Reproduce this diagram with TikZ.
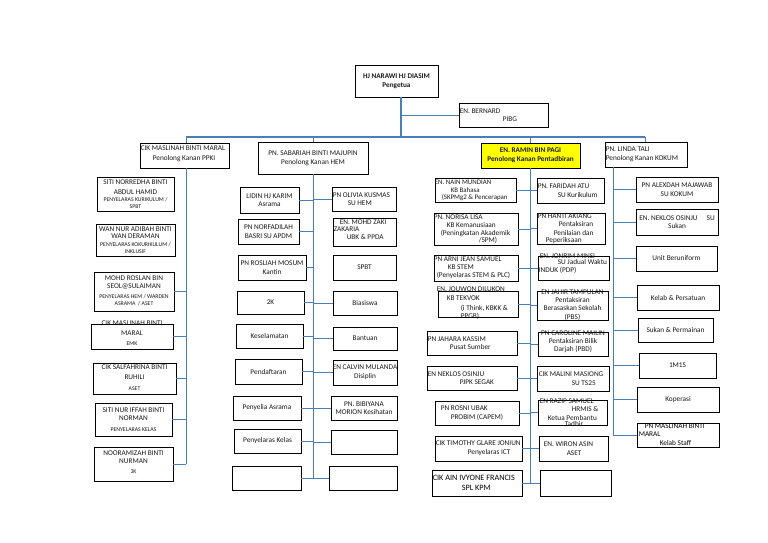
\documentclass[tikz,border=0pt]{standalone}
\usepackage{fontspec}
\setmainfont{Carlito}
\definecolor{lnc}{HTML}{4A7EBB}
\definecolor{ylw}{HTML}{FFFF00}
\tikzset{
 bx/.style={draw=black, line width=0.9pt, inner sep=0pt},
 tx/.style={inner sep=0pt, align=center, font=\fontsize{7.3}{8.6}\selectfont, text=black!90},
 tl/.style={tx, align=left, anchor=west},
 ln/.style={draw=lnc, line width=0.8pt},
 bus/.style={draw=lnc, line width=1.2pt},
}
\newcommand\sm{\fontsize{5.8}{6.5}\selectfont}
\newcommand\fb{\fontsize{7.2}{8.6}\selectfont\bfseries}
\newcommand\Bx[6][]{%
 \pgfmathsetmacro\bw{#5-#3}\pgfmathsetmacro\bh{#6-#4}%
 \node[bx,#1,minimum width=\bw pt,minimum height=\bh pt] (#2) at ({(#3+#5)/2},{(#4+#6)/2}) {};}
\newcommand\Tc[3][]{\node[tx,#1] (#2t) at (#2.center) {#3};}
\newcommand\Tl[3][]{\node[tl,xshift=1pt,#1] (#2t) at (#2.west) {#3};}
\newcommand\Lk[3]{\draw[ln] (#1.#3) -- (#1.#3 -| #2);}
\begin{document}
\begin{tikzpicture}[x=1pt,y=-1pt]
\fill[white] (0,0) rectangle (768,543);
\useasboundingbox (0,0) rectangle (768,543);

% ---------- top level ----------
\Bx{top}{355}{65}{438}{97}
\Tc[font=\fb]{top}{HJ NARAWI HJ DIASIM\\Pengetua}
\Bx{pibg}{459}{103}{548}{127}
\Tl{pibg}{EN. BERNARD\\\hspace*{43pt}PIBG}

\Bx{ppki}{140}{143}{229}{168}
\Tl[yshift=1.5pt]{ppki}{CIK MASLINAH BINTI MARAL\\[1pt]\hspace*{12pt}Penolong Kanan PPKI}
\Bx{sab}{258}{142}{368}{174}
\Tc{sab}{PN. SABARIAH BINTI MAJUPIN\\Penolong Kanan HEM}
\Bx[fill=ylw]{ram}{481}{143}{580}{168}
\Tc[font=\fb]{ram}{EN. RAMIN BIN PAGI\\Penolong Kanan Pentadbiran}
\Bx{linda}{605}{142}{687}{167}
\Tl{linda}{PN. LINDA TALI\\Penolong Kanan KOKUM}

% ---------- column 1 ----------
\Bx{a1}{97}{177}{174}{211}
\Tc{a1}{SITI NORREDHA BINTI\\[1.4pt]ABDUL HAMID\\[-1.6pt]{\sm PENYELARAS KURIKULUM /}\\[-2pt]{\sm SPBT}}
\Bx{a2}{96}{224}{175}{256}
\Tc{a2}{WAN NUR ADIBAH BINTI\\[-1.6pt]WAN DERAMAN\\[-0.6pt]{\sm PENYELARAS KOKURIKULUM /}\\[-1.6pt]{\sm INKLUSIF}}
\Bx{a3}{94}{272}{174}{311}
\Tc[yshift=1pt]{a3}{MOHD ROSLAN BIN\\[-0.6pt]SEOL@SULAIMAN\\[1.4pt]{\sm PENYELARAS HEM / WARDEN}\\[-1.6pt]{\sm ASRAMA \ / ASET}}
\Bx{a4}{91}{324}{173}{349}
\Tc[yshift=3.5pt]{a4}{CIK MASLINAH BINTI\\[1.4pt]MARAL\\[1.4pt]{\sm EMK}}
\Bx{a5}{93}{363}{176}{394}
\Tc[yshift=1pt]{a5}{CIK SALFAHRINA BINTI\\[1.4pt]RUHILI\\[2.4pt]{\sm ASET}}
\Bx{a6}{95}{403}{172}{436}
\Tc{a6}{SITI NUR IFFAH BINTI\\[-0.6pt]NORMAN\\[2.4pt]{\sm PENYELARAS KELAS}}
\Bx{a7}{94}{447}{173}{481}
\Tc[yshift=2pt]{a7}{NOORAMIZAH BINTI\\[-0.6pt]NURMAN\\[1.4pt]{\sm 3K}}

% ---------- column 2 ----------
\Bx{b1}{240}{187}{299}{213}\Tc{b1}{LIDIN HJ KARIM\\Asrama}
\Bx{b2}{238}{219}{299}{244}\Tc{b2}{PN NORFADILAH\\BASRI SU APDM}
\Bx{b3}{238}{255}{306}{280}\Tc{b3}{PN ROSLIAH MOSUM\\Kantin}
\Bx{b4}{237}{291}{304}{314}\Tc{b4}{2K}
\Bx{b5}{236}{324}{303}{348}\Tc{b5}{Keselamatan}
\Bx{b6}{235}{359}{302}{384}\Tc{b6}{Pendaftaran}
\Bx{b7}{233}{396}{301}{420}\Tc{b7}{Penyelia Asrama}
\Bx{b8}{234}{429}{301}{453}\Tc{b8}{Penyelaras Kelas}
\Bx{b9}{232}{466}{301}{490}

\Bx{c1}{332}{187}{396}{211}\Tl{c1}{PN OLIVIA KUSMAS\\\hspace*{15pt}SU HEM}
\Bx{c2}{333}{218}{396}{246}\Tl[yshift=2.7pt]{c2}{\hspace*{6pt}EN. MOHD ZAKI\\[-1.6pt]ZAKARIA\\[-0.6pt]\hspace*{13pt}UBK \& PPDA}
\Bx{c3}{333}{255}{396}{280}\Tc{c3}{SPBT}
\Bx{c4}{333}{291}{397}{315}\Tc{c4}{Biasiswa}
\Bx{c5}{333}{327}{397}{350}\Tc{c5}{Bantuan}
\Bx{c6}{333}{360}{397}{385}\Tc{c6}{EN CALVIN MULANDA\\Disiplin}
\Bx{c7}{331}{396}{397}{420}\Tc{c7}{PN. BIBIYANA\\MORION Kesihatan}
\Bx{c8}{331}{430}{397}{454}
\Bx{c9}{329}{466}{397}{490}

% ---------- column 3 ----------
\Bx{d1}{435}{178}{516}{202}
\Tl[xshift=-1pt,font=\fontsize{6.9}{8.6}\selectfont]{d1}{EN. NAIN MUNDIAN\\[-0.6pt]\hspace*{16pt}KB Bahasa\\[-1.6pt]\hspace*{7pt}(SKPMg2 \& Pencerapan}
\Bx{d2}{434}{213}{518}{245}
\Tl[xshift=-1pt]{d2}{PN. NORISA LISA\\[-0.6pt]\hspace*{13pt}KB Kemanusiaan\\[-0.6pt]\hspace*{7pt}(Peningkatan Akademik\\[-1.6pt]\hspace*{45pt}/SPM)}
\Bx{d3}{434}{255}{518}{281}
\Tl[xshift=-1pt]{d3}{PN ARNI JEAN SAMUEL\\[-0.6pt]\hspace*{14pt}KB STEM\\[-0.6pt]\hspace*{3pt}(Penyelaras STEM \& PLC)}
\Bx{d4}{438}{291}{518}{317}
\Tl[xshift=-2pt,yshift=1pt]{d4}{EN. JOUWON DILUKON\\[0.4pt]\hspace*{10pt}KB TEKVOK\\[1.4pt]\hspace*{24pt}(i Think, KBKK \&\\[-0.6pt]\hspace*{24pt}PPGB)}
\Bx{d5}{427}{331}{517}{355}
\Tl{d5}{PN JAHARA KASSIM\\\hspace*{22pt}Pusat Sumber}
\Bx{d6}{427}{366}{517}{390}
\Tl{d6}{EN NEKLOS OSINJU\\\hspace*{32pt}PJPK SEGAK}
\Bx{d7}{435}{401}{519}{425}
\Tl{d7}{\hspace*{5pt}PN ROSNI UBAK\\\hspace*{15pt}PROBIM (CAPEM)}
\Bx{d8}{435}{436}{522}{461}
\Tl{d8}{CIK TIMOTHY GLARE JONIUN\\\hspace*{32pt}Penyelaras ICT}
\Bx{d9}{432}{470}{522}{496}
\Tl[font=\fontsize{8.2}{10}\selectfont,text=black]{d9}{CIK AIN IVYONE FRANCIS\\\hspace*{29pt}SPL KPM}

\Bx{e1}{537}{178}{604}{203}
\Tl{e1}{PN. FARIDAH ATU\\\hspace*{20pt}SU Kurikulum}
\Bx{e2}{537}{213}{605}{244}
\Tl{e2}{PN HANTI AKIANG\\[-0.6pt]\hspace*{21pt}Pentaksiran\\[0.4pt]\hspace*{16pt}Penilaian dan\\[-1.6pt]\hspace*{8pt}Peperiksaan}
\Bx{e3}{538}{256}{609}{280}
\Tl[yshift=4pt]{e3}{\hspace*{1pt}EN. JONRIM MINSI\\[-2.6pt]\hspace*{19pt}SU Jadual Waktu\\[-0.6pt]INDUK (PDP)}
\Bx{e4}{537}{291}{608}{320}
\Tc{e4}{EN JAHIR TAMPULAN\\[-0.6pt]Pentaksiran\\[-0.6pt]Berasaskan Sekolah\\[0.4pt](PBS)}
\Bx{e5}{538}{332}{608}{356}
\Tc[yshift=2pt]{e5}{PN CAROLINE MAILIN\\[-0.6pt]Pentaksiran Bilik\\[-0.6pt]Darjah (PBD)}
\Bx{e6}{537}{366}{609}{391}
\Tl{e6}{\hspace*{1pt}CIK MALINI MASIONG\\\hspace*{34pt}SU TS25}
\Bx{e7}{538}{400}{607}{425}
\Tl{e7}{\hspace*{1pt}EN RAZIP SAMUEL\\[-0.6pt]\hspace*{33pt}HRMIS \&\\[0.4pt]\hspace*{9pt}Ketua Pembantu\\[-2.6pt]\hspace*{26pt}Tadbir}
\Bx{e8}{539}{436}{608}{461}
\Tl{e8}{\hspace*{4pt}EN. WIRON ASIN\\\hspace*{27pt}ASET}
\Bx{e9}{540}{470}{611}{496}

% ---------- column 4 ----------
\Bx{f1}{636}{177}{718}{202}\Tc{f1}{PN ALEXDAH MAJAWAB\\SU KOKUM}
\Bx{f2}{636}{209}{718}{235}\Tc{f2}{EN. NEKLOS OSINJU\hspace*{9pt}SU\\Sukan}
\Bx{f3}{636}{246}{717}{271}\Tc{f3}{Unit Beruniform}
\Bx{f4}{637}{285}{719}{310}\Tc{f4}{Kelab \& Persatuan}
\Bx{f5}{638}{318}{713}{342}\Tc{f5}{Sukan \& Permainan}
\Bx{f6}{639}{353}{716}{378}\Tc{f6}{1M1S}
\Bx{f7}{637}{387}{719}{412}\Tc{f7}{Koperasi}
\Bx{f8}{637}{423}{719}{447}
\Tl[text=black]{f8}{\hspace*{7pt}PN MASLINAH BINTI\\[-0.6pt]\hspace*{1pt}MARAL\\[0.4pt]\hspace*{22pt}Kelab Staff}

% ---------- connectors ----------
\coordinate (busM) at (401,137);
\coordinate (busL) at (186,137);
\coordinate (busR) at (645,137);
\coordinate (c2) at (313,137);
\coordinate (c3) at (530.5,137);
\coordinate (s1) at (186,464);
\coordinate (s2) at (313,478);
\coordinate (s3) at (530.5,483);
\coordinate (s4) at (613,435);

\draw[bus] (busM |- top.south) -- (busM);
\draw[ln] (busM |- pibg.west) -- (pibg.west);
\draw[bus] (busL) -- (busR);
\draw[ln] (busL) -- (busL |- ppki.north);
\draw[ln] (c2) -- (c2 |- sab.north);
\draw[ln] (c3) -- (c3 |- ram.north);
\draw[ln] (busR) -- (busR |- linda.north);

\draw[ln] (s1 |- ppki.south) -- (s1);
\draw[ln] (s2 |- sab.south) -- (s2);
\draw[ln] (s3 |- ram.south) -- (s3);
\draw[ln] (s4 |- linda.south) -- (s4);

\foreach \n in {a3,a4,a5,a6,a7} {\Lk{\n}{s1}{east}}
\foreach \n in {b1,b2,b3,b4,b5,b6,b7,b8,b9} {\Lk{\n}{s2}{east}}
\foreach \n in {c1,c2,c3,c4,c5,c6,c7,c8,c9} {\Lk{\n}{s2}{west}}
\foreach \n in {d1,d2,d3,d4,d5,d6,d7,d8,d9} {\Lk{\n}{s3}{east}}
\foreach \n in {e1,e2,e3,e4,e5,e6,e7,e8,e9} {\Lk{\n}{s3}{west}}
\foreach \n in {f1,f2,f3,f4,f5,f6,f7,f8} {\Lk{\n}{s4}{west}}
\end{tikzpicture}
\end{document}
